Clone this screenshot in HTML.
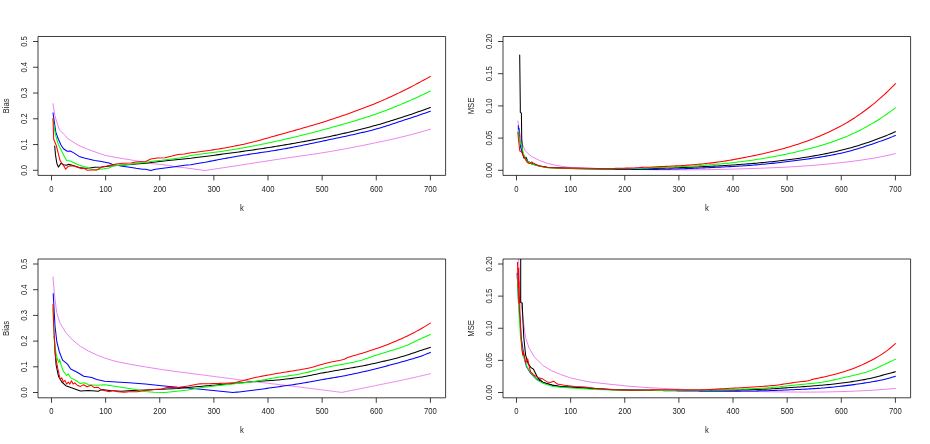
<!DOCTYPE html>
<html><head><meta charset="utf-8"><title>Bias and MSE plots</title>
<style>
html,body{margin:0;padding:0;background:#fff;}
body{width:930px;height:444px;overflow:hidden;font-family:"Liberation Sans",sans-serif;}
svg{display:block;}
</style></head><body>
<svg width="930" height="444" viewBox="0 0 930 444">
<rect x="0" y="0" width="930" height="444" fill="#ffffff"/>
<defs>
<clipPath id="cp00"><rect x="38.0" y="36.5" width="407.6" height="138.9"/></clipPath>
<clipPath id="cp01"><rect x="503.0" y="36.5" width="407.6" height="138.9"/></clipPath>
<clipPath id="cp10"><rect x="38.0" y="259.0" width="407.6" height="138.8"/></clipPath>
<clipPath id="cp11"><rect x="503.0" y="259.0" width="407.6" height="138.8"/></clipPath>
</defs>
<g clip-path="url(#cp00)" fill="none" stroke-linejoin="round" stroke-linecap="round">
<path d="M52.95,103.70 L54.00,110.00 L54.90,115.50 L57.20,123.40 L59.60,130.10 L65.60,135.80 L66.70,137.80 L77.00,144.50 L87.40,149.20 L99.80,153.60 L104.50,155.20 L110.20,156.40 L122.50,158.60 L130.90,159.90 L136.00,160.90 L142.50,161.90 L150.80,163.50 L161.80,164.50 L168.30,165.40 L174.70,166.70 L184.40,167.70 L196.00,169.30 L204.90,170.50 L206.90,170.20 L208.90,169.90 L210.90,169.60 L212.90,169.30 L214.90,169.00 L216.90,168.70 L218.90,168.40 L220.90,168.09 L222.90,167.79 L224.90,167.49 L226.90,167.19 L228.90,166.88 L230.90,166.58 L232.90,166.27 L234.90,165.97 L236.90,165.66 L238.90,165.36 L240.90,165.05 L241.90,164.90 L242.90,164.75 L244.90,164.44 L246.90,164.13 L248.90,163.82 L250.90,163.51 L252.90,163.20 L254.90,162.89 L256.90,162.58 L258.90,162.26 L260.90,161.95 L262.90,161.64 L264.90,161.33 L266.90,161.02 L268.90,160.71 L270.90,160.40 L272.90,160.09 L274.90,159.78 L276.90,159.47 L278.90,159.17 L280.00,159.00 L280.90,158.86 L282.90,158.56 L284.90,158.27 L286.90,157.97 L288.90,157.68 L290.90,157.40 L292.90,157.11 L294.90,156.82 L296.90,156.54 L298.90,156.25 L300.90,155.97 L302.90,155.68 L304.90,155.40 L306.90,155.11 L308.90,154.82 L310.90,154.53 L312.90,154.23 L314.90,153.94 L316.90,153.63 L318.90,153.33 L320.90,153.02 L322.90,152.70 L324.90,152.38 L326.90,152.05 L327.80,151.90 L328.90,151.72 L330.90,151.38 L332.90,151.03 L334.90,150.68 L336.90,150.33 L338.90,149.97 L340.90,149.61 L342.90,149.24 L344.90,148.87 L346.90,148.49 L348.90,148.11 L350.90,147.73 L352.90,147.35 L354.90,146.96 L356.90,146.57 L358.90,146.17 L360.90,145.77 L362.90,145.37 L364.90,144.97 L366.90,144.56 L368.90,144.16 L370.90,143.75 L372.90,143.34 L374.90,142.92 L375.50,142.80 L376.90,142.51 L378.90,142.09 L380.90,141.67 L382.90,141.25 L384.90,140.82 L386.90,140.39 L388.90,139.95 L390.90,139.51 L392.90,139.06 L394.90,138.61 L396.90,138.15 L398.90,137.68 L400.90,137.20 L402.90,136.72 L404.20,136.40 L404.90,136.23 L406.90,135.73 L408.90,135.21 L410.90,134.70 L412.90,134.17 L414.90,133.63 L416.90,133.08 L418.90,132.53 L420.90,131.97 L422.90,131.40 L424.90,130.82 L426.90,130.24 L428.90,129.65 L430.40,129.20" stroke="#ee82ee" stroke-width="1.0"/>
<path d="M53.00,112.90 L55.80,132.10 L58.40,139.30 L61.00,145.00 L63.50,148.70 L67.20,151.20 L70.30,151.00 L73.40,152.60 L79.10,156.40 L84.30,158.00 L89.50,159.30 L94.60,160.60 L100.00,161.30 L109.00,162.90 L112.60,164.50 L122.50,166.30 L131.50,167.40 L136.00,168.30 L142.50,169.30 L145.70,169.20 L150.70,170.50 L155.40,169.30 L165.00,168.00 L174.70,166.70 L184.40,165.30 L190.80,164.80 L196.00,163.80 L204.90,162.30 L206.90,161.91 L208.90,161.51 L210.90,161.12 L212.90,160.74 L214.90,160.36 L216.90,159.98 L218.90,159.60 L220.90,159.22 L222.90,158.85 L224.90,158.49 L226.90,158.12 L228.90,157.76 L230.90,157.40 L232.90,157.05 L234.90,156.70 L236.90,156.35 L238.90,156.01 L240.90,155.67 L241.90,155.50 L242.90,155.33 L244.90,155.01 L246.90,154.69 L248.90,154.37 L250.90,154.07 L252.90,153.77 L254.90,153.47 L256.90,153.17 L258.90,152.88 L260.90,152.59 L262.90,152.29 L264.90,152.00 L266.90,151.70 L268.90,151.40 L270.90,151.09 L272.90,150.78 L274.90,150.46 L276.90,150.13 L278.90,149.79 L280.00,149.60 L280.90,149.44 L282.90,149.09 L284.90,148.73 L286.90,148.36 L288.90,147.99 L290.90,147.61 L292.90,147.22 L294.90,146.84 L296.90,146.44 L298.90,146.04 L300.90,145.64 L302.90,145.24 L304.90,144.83 L306.90,144.41 L308.90,144.00 L310.90,143.58 L312.90,143.16 L314.90,142.74 L316.90,142.32 L318.90,141.89 L320.90,141.47 L322.90,141.04 L324.90,140.62 L326.90,140.19 L327.80,140.00 L328.90,139.77 L330.90,139.34 L332.90,138.92 L334.90,138.50 L336.90,138.08 L338.90,137.66 L340.90,137.24 L342.90,136.81 L344.90,136.39 L346.90,135.96 L348.90,135.53 L350.90,135.09 L352.90,134.65 L354.90,134.21 L356.90,133.76 L358.90,133.30 L360.90,132.84 L362.90,132.37 L364.90,131.89 L366.90,131.40 L368.90,130.91 L370.90,130.40 L372.90,129.89 L374.90,129.36 L375.50,129.20 L376.90,128.82 L378.90,128.26 L380.90,127.67 L382.90,127.07 L384.90,126.45 L386.90,125.81 L388.90,125.17 L390.90,124.52 L392.90,123.85 L394.90,123.19 L396.90,122.52 L398.90,121.85 L400.90,121.19 L402.90,120.53 L404.20,120.10 L404.90,119.87 L406.90,119.22 L408.90,118.56 L410.90,117.90 L412.90,117.23 L414.90,116.56 L416.90,115.89 L418.90,115.22 L420.90,114.55 L422.90,113.87 L424.90,113.19 L426.90,112.50 L428.90,111.82 L430.40,111.30" stroke="#0000ff" stroke-width="1.05"/>
<path d="M54.70,146.10 L55.50,154.90 L56.80,163.20 L58.40,167.10 L61.00,163.20 L63.50,164.70 L66.70,165.20 L68.70,164.20 L73.90,165.80 L79.10,167.50 L84.30,168.30 L89.50,168.10 L94.60,167.30 L101.90,166.90 L110.20,166.00 L120.50,165.20 L130.90,164.50 L136.00,164.10 L145.70,163.20 L155.40,161.90 L168.30,160.60 L181.20,159.30 L190.80,158.30 L196.00,157.40 L204.90,156.40 L206.90,156.15 L208.90,155.90 L210.90,155.65 L212.90,155.40 L214.90,155.15 L216.90,154.89 L218.90,154.63 L220.90,154.37 L222.90,154.10 L224.90,153.84 L226.90,153.57 L228.90,153.30 L230.90,153.03 L232.90,152.76 L234.90,152.48 L236.90,152.20 L238.90,151.92 L240.90,151.64 L241.90,151.50 L242.90,151.36 L244.90,151.07 L246.90,150.79 L248.90,150.50 L250.90,150.21 L252.90,149.92 L254.90,149.62 L256.90,149.32 L258.90,149.03 L260.90,148.72 L262.90,148.42 L264.90,148.11 L266.90,147.80 L268.90,147.49 L270.90,147.18 L272.90,146.86 L274.90,146.54 L276.90,146.21 L278.90,145.88 L280.00,145.70 L280.90,145.55 L282.90,145.22 L284.90,144.88 L286.90,144.54 L288.90,144.20 L290.90,143.86 L292.90,143.51 L294.90,143.16 L296.90,142.81 L298.90,142.46 L300.90,142.10 L302.90,141.74 L304.90,141.37 L306.90,141.00 L308.90,140.63 L310.90,140.26 L312.90,139.88 L314.90,139.49 L316.90,139.10 L318.90,138.71 L320.90,138.31 L322.90,137.91 L324.90,137.50 L326.90,137.09 L327.80,136.90 L328.90,136.67 L330.90,136.25 L332.90,135.82 L334.90,135.38 L336.90,134.94 L338.90,134.50 L340.90,134.05 L342.90,133.59 L344.90,133.13 L346.90,132.66 L348.90,132.19 L350.90,131.71 L352.90,131.23 L354.90,130.74 L356.90,130.25 L358.90,129.75 L360.90,129.24 L362.90,128.73 L364.90,128.22 L366.90,127.70 L368.90,127.17 L370.90,126.64 L372.90,126.10 L374.90,125.56 L375.50,125.40 L376.90,125.02 L378.90,124.45 L380.90,123.88 L382.90,123.30 L384.90,122.70 L386.90,122.10 L388.90,121.49 L390.90,120.86 L392.90,120.24 L394.90,119.60 L396.90,118.96 L398.90,118.32 L400.90,117.67 L402.90,117.02 L404.20,116.60 L404.90,116.37 L406.90,115.71 L408.90,115.05 L410.90,114.38 L412.90,113.70 L414.90,113.01 L416.90,112.32 L418.90,111.62 L420.90,110.92 L422.90,110.21 L424.90,109.50 L426.90,108.78 L428.90,108.05 L430.40,107.50" stroke="#000000" stroke-width="1.05"/>
<path d="M53.00,118.50 L55.30,134.10 L58.40,144.50 L61.50,150.70 L64.60,156.90 L66.70,160.60 L70.30,161.10 L74.90,163.20 L79.10,165.00 L83.20,166.50 L87.40,167.30 L90.50,168.90 L96.70,169.90 L100.00,169.20 L104.00,168.80 L109.10,168.00 L113.50,165.80 L122.60,165.10 L130.90,164.20 L136.00,163.20 L145.70,162.50 L152.10,161.20 L161.80,160.30 L172.10,159.00 L181.20,157.70 L190.80,155.40 L196.00,154.80 L204.90,153.60 L206.90,153.35 L208.90,153.10 L210.90,152.84 L212.90,152.57 L214.90,152.30 L216.90,152.02 L218.90,151.74 L220.90,151.45 L222.90,151.15 L224.90,150.85 L226.90,150.54 L228.90,150.23 L230.90,149.92 L232.90,149.60 L234.90,149.27 L236.90,148.94 L238.90,148.61 L240.90,148.27 L241.90,148.10 L242.90,147.93 L244.90,147.58 L246.90,147.22 L248.90,146.85 L250.90,146.48 L252.90,146.09 L254.90,145.71 L256.90,145.31 L258.90,144.91 L260.90,144.50 L262.90,144.09 L264.90,143.67 L266.90,143.25 L268.90,142.83 L270.90,142.40 L272.90,141.96 L274.90,141.53 L276.90,141.09 L278.90,140.64 L280.00,140.40 L280.90,140.20 L282.90,139.75 L284.90,139.30 L286.90,138.84 L288.90,138.37 L290.90,137.90 L292.90,137.43 L294.90,136.95 L296.90,136.47 L298.90,135.98 L300.90,135.49 L302.90,135.00 L304.90,134.50 L306.90,133.99 L308.90,133.49 L310.90,132.97 L312.90,132.46 L314.90,131.94 L316.90,131.41 L318.90,130.89 L320.90,130.36 L322.90,129.82 L324.90,129.29 L326.90,128.74 L327.80,128.50 L328.90,128.20 L330.90,127.65 L332.90,127.10 L334.90,126.55 L336.90,126.00 L338.90,125.44 L340.90,124.88 L342.90,124.31 L344.90,123.74 L346.90,123.16 L348.90,122.58 L350.90,121.99 L352.90,121.40 L354.90,120.80 L356.90,120.20 L358.90,119.58 L360.90,118.97 L362.90,118.34 L364.90,117.70 L366.90,117.06 L368.90,116.41 L370.90,115.75 L372.90,115.08 L374.90,114.41 L375.50,114.20 L376.90,113.72 L378.90,113.01 L380.90,112.29 L382.90,111.55 L384.90,110.80 L386.90,110.03 L388.90,109.26 L390.90,108.47 L392.90,107.67 L394.90,106.86 L396.90,106.04 L398.90,105.22 L400.90,104.39 L402.90,103.55 L404.20,103.00 L404.90,102.70 L406.90,101.85 L408.90,100.98 L410.90,100.11 L412.90,99.22 L414.90,98.32 L416.90,97.41 L418.90,96.49 L420.90,95.56 L422.90,94.61 L424.90,93.66 L426.90,92.70 L428.90,91.73 L430.40,91.00" stroke="#00ff00" stroke-width="1.05"/>
<path d="M53.00,118.50 L53.70,139.30 L56.30,145.50 L58.40,153.80 L59.90,160.10 L62.00,163.70 L64.10,166.30 L65.60,169.20 L67.70,166.80 L70.30,165.80 L73.90,166.10 L78.10,167.50 L81.20,168.50 L84.30,168.30 L86.90,170.20 L91.50,169.90 L96.70,169.90 L101.90,167.00 L107.10,166.00 L111.20,165.00 L116.40,164.00 L122.60,163.30 L130.90,163.10 L136.00,162.00 L140.00,161.80 L145.70,161.50 L150.80,159.00 L157.30,158.00 L165.00,157.70 L172.10,156.10 L177.90,154.50 L184.40,154.10 L190.80,152.80 L196.00,152.20 L204.90,151.00 L206.90,150.74 L208.90,150.47 L210.90,150.18 L212.90,149.89 L214.90,149.58 L216.90,149.27 L218.90,148.94 L220.90,148.61 L222.90,148.26 L224.90,147.91 L226.90,147.55 L228.90,147.18 L230.90,146.80 L232.90,146.42 L234.90,146.03 L236.90,145.63 L238.90,145.22 L240.90,144.81 L241.90,144.60 L242.90,144.39 L244.90,143.95 L246.90,143.49 L248.90,143.02 L250.90,142.53 L252.90,142.02 L254.90,141.50 L256.90,140.97 L258.90,140.43 L260.90,139.89 L262.90,139.33 L264.90,138.77 L266.90,138.20 L268.90,137.64 L270.90,137.07 L272.90,136.50 L274.90,135.93 L276.90,135.37 L278.90,134.81 L280.00,134.50 L280.90,134.25 L282.90,133.70 L284.90,133.14 L286.90,132.59 L288.90,132.04 L290.90,131.48 L292.90,130.92 L294.90,130.37 L296.90,129.80 L298.90,129.24 L300.90,128.67 L302.90,128.11 L304.90,127.53 L306.90,126.96 L308.90,126.37 L310.90,125.79 L312.90,125.20 L314.90,124.60 L316.90,124.00 L318.90,123.39 L320.90,122.78 L322.90,122.15 L324.90,121.53 L326.90,120.89 L327.80,120.60 L328.90,120.25 L330.90,119.60 L332.90,118.94 L334.90,118.28 L336.90,117.61 L338.90,116.94 L340.90,116.26 L342.90,115.58 L344.90,114.89 L346.90,114.19 L348.90,113.49 L350.90,112.77 L352.90,112.06 L354.90,111.33 L356.90,110.60 L358.90,109.86 L360.90,109.11 L362.90,108.35 L364.90,107.59 L366.90,106.82 L368.90,106.04 L370.90,105.25 L372.90,104.45 L374.90,103.64 L375.50,103.40 L376.90,102.83 L378.90,101.99 L380.90,101.14 L382.90,100.27 L384.90,99.39 L386.90,98.50 L388.90,97.59 L390.90,96.67 L392.90,95.74 L394.90,94.79 L396.90,93.84 L398.90,92.88 L400.90,91.91 L402.90,90.94 L404.20,90.30 L404.90,89.96 L406.90,88.96 L408.90,87.96 L410.90,86.94 L412.90,85.90 L414.90,84.86 L416.90,83.81 L418.90,82.74 L420.90,81.66 L422.90,80.57 L424.90,79.48 L426.90,78.37 L428.90,77.25 L430.40,76.40" stroke="#ff0000" stroke-width="1.05"/>
</g>
<g clip-path="url(#cp01)" fill="none" stroke-linejoin="round" stroke-linecap="round">
<path d="M517.80,121.00 L519.80,132.80 L522.20,143.90 L525.40,151.20 L531.70,156.50 L539.50,160.50 L547.40,163.40 L555.30,165.20 L563.20,166.50 L571.10,167.50 L586.90,168.30 L608.00,168.80 L610.00,168.88 L612.00,168.95 L614.00,169.03 L616.00,169.09 L618.00,169.13 L620.00,169.17 L622.00,169.20 L624.00,169.24 L626.00,169.27 L628.00,169.31 L630.00,169.36 L632.00,169.40 L634.00,169.44 L636.00,169.49 L638.00,169.53 L640.00,169.57 L642.00,169.59 L644.00,169.62 L646.00,169.64 L648.00,169.66 L650.00,169.68 L652.00,169.70 L654.00,169.72 L656.00,169.74 L658.00,169.76 L660.00,169.77 L662.00,169.79 L664.00,169.80 L666.00,169.81 L668.00,169.82 L670.00,169.83 L672.00,169.83 L674.00,169.84 L676.00,169.84 L678.00,169.84 L680.00,169.84 L682.00,169.84 L684.00,169.84 L686.00,169.83 L688.00,169.82 L690.00,169.81 L692.00,169.80 L694.00,169.79 L696.00,169.77 L698.00,169.76 L700.00,169.74 L702.00,169.71 L704.00,169.69 L706.00,169.66 L708.00,169.63 L710.00,169.60 L712.00,169.57 L714.00,169.54 L716.00,169.50 L718.00,169.46 L720.00,169.42 L722.00,169.38 L724.00,169.33 L726.00,169.28 L728.00,169.24 L730.00,169.18 L732.00,169.13 L734.00,169.08 L736.00,169.02 L738.00,168.96 L740.00,168.90 L742.00,168.84 L744.00,168.78 L746.00,168.72 L748.00,168.65 L750.00,168.58 L752.00,168.52 L754.00,168.45 L756.00,168.38 L758.00,168.31 L760.00,168.24 L762.00,168.16 L764.00,168.09 L766.00,168.01 L768.00,167.93 L770.00,167.85 L772.00,167.77 L774.00,167.68 L776.00,167.60 L778.00,167.51 L780.00,167.42 L782.00,167.32 L784.00,167.22 L786.00,167.12 L788.00,167.01 L790.00,166.90 L792.00,166.79 L794.00,166.67 L796.00,166.55 L798.00,166.42 L800.00,166.29 L802.00,166.15 L804.00,166.01 L806.00,165.87 L808.00,165.72 L810.00,165.57 L812.00,165.41 L814.00,165.25 L816.00,165.09 L818.00,164.92 L820.00,164.74 L822.00,164.56 L824.00,164.38 L826.00,164.19 L828.00,164.00 L830.00,163.80 L832.00,163.60 L834.00,163.40 L836.00,163.19 L838.00,162.97 L840.00,162.75 L842.00,162.53 L844.00,162.31 L846.00,162.07 L848.00,161.84 L850.00,161.59 L852.00,161.34 L854.00,161.09 L856.00,160.82 L858.00,160.55 L860.00,160.27 L862.00,159.99 L864.00,159.69 L866.00,159.39 L868.00,159.07 L870.00,158.75 L872.00,158.41 L874.00,158.07 L876.00,157.71 L878.00,157.34 L880.00,156.96 L882.00,156.56 L884.00,156.16 L886.00,155.74 L888.00,155.31 L890.00,154.87 L892.00,154.42 L894.00,153.95 L895.41,153.62" stroke="#ee82ee" stroke-width="1.0"/>
<path d="M518.30,125.70 L518.40,130.00 L519.00,128.50 L519.20,133.00 L520.60,147.00 L523.00,154.90 L525.40,158.80 L527.70,161.50 L531.70,164.00 L539.50,166.10 L547.40,167.40 L563.20,168.20 L579.00,168.80 L608.00,169.30 L610.00,169.32 L612.00,169.35 L614.00,169.37 L616.00,169.39 L618.00,169.41 L620.00,169.42 L622.00,169.43 L624.00,169.44 L626.00,169.45 L628.00,169.46 L630.00,169.46 L632.00,169.46 L634.00,169.46 L636.00,169.46 L638.00,169.46 L640.00,169.46 L642.00,169.45 L644.00,169.44 L646.00,169.43 L648.00,169.41 L650.00,169.40 L652.00,169.40 L654.00,169.40 L656.00,169.39 L658.00,169.36 L660.00,169.32 L662.00,169.29 L664.00,169.25 L666.00,169.22 L668.00,169.18 L670.00,169.14 L672.00,169.08 L674.00,169.03 L676.00,168.97 L678.00,168.91 L680.00,168.84 L682.00,168.78 L684.00,168.71 L686.00,168.64 L688.00,168.56 L690.00,168.49 L692.00,168.41 L694.00,168.33 L696.00,168.25 L698.00,168.17 L700.00,168.08 L702.00,167.99 L704.00,167.89 L706.00,167.80 L708.00,167.70 L710.00,167.61 L712.00,167.52 L714.00,167.42 L716.00,167.33 L718.00,167.23 L720.00,167.14 L722.00,167.04 L724.00,166.94 L726.00,166.84 L728.00,166.74 L730.00,166.64 L732.00,166.53 L734.00,166.42 L736.00,166.31 L738.00,166.19 L740.00,166.07 L742.00,165.94 L744.00,165.81 L746.00,165.67 L748.00,165.52 L750.00,165.37 L752.00,165.21 L754.00,165.05 L756.00,164.88 L758.00,164.71 L760.00,164.53 L762.00,164.35 L764.00,164.16 L766.00,163.97 L768.00,163.77 L770.00,163.57 L772.00,163.36 L774.00,163.14 L776.00,162.93 L778.00,162.70 L780.00,162.48 L782.00,162.25 L784.00,162.01 L786.00,161.77 L788.00,161.53 L790.00,161.28 L792.00,161.03 L794.00,160.77 L796.00,160.51 L798.00,160.25 L800.00,159.99 L802.00,159.73 L804.00,159.46 L806.00,159.18 L808.00,158.90 L810.00,158.62 L812.00,158.33 L814.00,158.04 L816.00,157.73 L818.00,157.43 L820.00,157.11 L822.00,156.79 L824.00,156.45 L826.00,156.11 L828.00,155.76 L830.00,155.40 L832.00,155.03 L834.00,154.64 L836.00,154.24 L838.00,153.83 L840.00,153.41 L842.00,152.96 L844.00,152.50 L846.00,152.00 L848.00,151.49 L850.00,150.95 L852.00,150.40 L854.00,149.82 L856.00,149.23 L858.00,148.63 L860.00,148.01 L862.00,147.38 L864.00,146.74 L866.00,146.10 L868.00,145.45 L870.00,144.80 L872.00,144.14 L874.00,143.47 L876.00,142.78 L878.00,142.09 L880.00,141.38 L882.00,140.66 L884.00,139.93 L886.00,139.18 L888.00,138.43 L890.00,137.66 L892.00,136.88 L894.00,136.09 L895.41,135.52" stroke="#0000ff" stroke-width="1.05"/>
<path d="M519.70,55.10 L520.30,106.00 L520.30,112.30 L521.40,113.10 L521.70,137.50 L522.50,151.70 L523.80,158.00 L526.10,157.30 L527.70,161.20 L531.70,163.60 L539.50,165.90 L547.40,167.20 L563.20,168.00 L579.00,168.60 L608.00,169.10 L610.00,169.09 L612.00,169.07 L614.00,169.05 L616.00,169.02 L618.00,168.99 L620.00,168.96 L622.00,168.94 L624.00,168.92 L626.00,168.90 L628.00,168.87 L630.00,168.84 L632.00,168.82 L634.00,168.79 L636.00,168.76 L638.00,168.73 L640.00,168.70 L642.00,168.67 L644.00,168.63 L646.00,168.60 L648.00,168.56 L650.00,168.52 L652.00,168.48 L654.00,168.44 L656.00,168.40 L658.00,168.32 L660.00,168.24 L662.00,168.18 L664.00,168.13 L666.00,168.07 L668.00,168.02 L670.00,167.96 L672.00,167.90 L674.00,167.84 L676.00,167.77 L678.00,167.70 L680.00,167.63 L682.00,167.56 L684.00,167.49 L686.00,167.41 L688.00,167.33 L690.00,167.25 L692.00,167.17 L694.00,167.09 L696.00,167.00 L698.00,166.91 L700.00,166.82 L702.00,166.73 L704.00,166.63 L706.00,166.53 L708.00,166.43 L710.00,166.33 L712.00,166.23 L714.00,166.12 L716.00,166.01 L718.00,165.90 L720.00,165.78 L722.00,165.66 L724.00,165.54 L726.00,165.42 L728.00,165.30 L730.00,165.17 L732.00,165.03 L734.00,164.90 L736.00,164.76 L738.00,164.62 L740.00,164.47 L742.00,164.32 L744.00,164.17 L746.00,164.02 L748.00,163.86 L750.00,163.69 L752.00,163.53 L754.00,163.36 L756.00,163.18 L758.00,163.00 L760.00,162.82 L762.00,162.64 L764.00,162.45 L766.00,162.26 L768.00,162.06 L770.00,161.85 L772.00,161.65 L774.00,161.44 L776.00,161.22 L778.00,161.00 L780.00,160.77 L782.00,160.53 L784.00,160.30 L786.00,160.05 L788.00,159.80 L790.00,159.54 L792.00,159.28 L794.00,159.01 L796.00,158.73 L798.00,158.44 L800.00,158.15 L802.00,157.85 L804.00,157.54 L806.00,157.23 L808.00,156.90 L810.00,156.57 L812.00,156.23 L814.00,155.89 L816.00,155.53 L818.00,155.16 L820.00,154.79 L822.00,154.41 L824.00,154.02 L826.00,153.62 L828.00,153.21 L830.00,152.79 L832.00,152.36 L834.00,151.92 L836.00,151.47 L838.00,151.01 L840.00,150.55 L842.00,150.06 L844.00,149.57 L846.00,149.05 L848.00,148.52 L850.00,147.97 L852.00,147.41 L854.00,146.83 L856.00,146.23 L858.00,145.63 L860.00,145.00 L862.00,144.37 L864.00,143.72 L866.00,143.06 L868.00,142.39 L870.00,141.71 L872.00,141.01 L874.00,140.30 L876.00,139.57 L878.00,138.83 L880.00,138.07 L882.00,137.29 L884.00,136.50 L886.00,135.69 L888.00,134.86 L890.00,134.02 L892.00,133.16 L894.00,132.28 L895.41,131.66" stroke="#000000" stroke-width="1.05"/>
<path d="M518.30,129.70 L519.50,140.00 L521.90,147.00 L523.50,154.00 L526.50,160.50 L531.70,164.00 L539.50,166.30 L547.40,167.70 L563.20,168.50 L579.00,168.60 L608.00,169.00 L610.00,168.99 L612.00,168.96 L614.00,168.91 L616.00,168.85 L618.00,168.81 L620.00,168.79 L622.00,168.76 L624.00,168.74 L626.00,168.72 L628.00,168.68 L630.00,168.64 L632.00,168.60 L634.00,168.55 L636.00,168.51 L638.00,168.46 L640.00,168.40 L642.00,168.34 L644.00,168.28 L646.00,168.22 L648.00,168.11 L650.00,167.99 L652.00,167.86 L654.00,167.74 L656.00,167.61 L658.00,167.55 L660.00,167.48 L662.00,167.41 L664.00,167.34 L666.00,167.25 L668.00,167.17 L670.00,167.09 L672.00,167.01 L674.00,166.93 L676.00,166.85 L678.00,166.76 L680.00,166.67 L682.00,166.57 L684.00,166.47 L686.00,166.37 L688.00,166.26 L690.00,166.15 L692.00,166.03 L694.00,165.91 L696.00,165.79 L698.00,165.66 L700.00,165.53 L702.00,165.40 L704.00,165.26 L706.00,165.12 L708.00,164.97 L710.00,164.82 L712.00,164.66 L714.00,164.49 L716.00,164.32 L718.00,164.14 L720.00,163.96 L722.00,163.77 L724.00,163.57 L726.00,163.37 L728.00,163.16 L730.00,162.94 L732.00,162.72 L734.00,162.49 L736.00,162.26 L738.00,162.02 L740.00,161.78 L742.00,161.53 L744.00,161.27 L746.00,161.01 L748.00,160.74 L750.00,160.47 L752.00,160.18 L754.00,159.90 L756.00,159.60 L758.00,159.30 L760.00,158.98 L762.00,158.66 L764.00,158.34 L766.00,158.00 L768.00,157.66 L770.00,157.31 L772.00,156.95 L774.00,156.59 L776.00,156.21 L778.00,155.83 L780.00,155.44 L782.00,155.04 L784.00,154.63 L786.00,154.22 L788.00,153.79 L790.00,153.36 L792.00,152.92 L794.00,152.47 L796.00,152.01 L798.00,151.55 L800.00,151.07 L802.00,150.59 L804.00,150.10 L806.00,149.60 L808.00,149.09 L810.00,148.56 L812.00,148.03 L814.00,147.48 L816.00,146.93 L818.00,146.36 L820.00,145.77 L822.00,145.18 L824.00,144.57 L826.00,143.94 L828.00,143.30 L830.00,142.65 L832.00,141.97 L834.00,141.28 L836.00,140.57 L838.00,139.85 L840.00,139.10 L842.00,138.33 L844.00,137.54 L846.00,136.71 L848.00,135.86 L850.00,134.98 L852.00,134.07 L854.00,133.14 L856.00,132.18 L858.00,131.19 L860.00,130.18 L862.00,129.15 L864.00,128.09 L866.00,127.01 L868.00,125.91 L870.00,124.79 L872.00,123.64 L874.00,122.46 L876.00,121.24 L878.00,120.00 L880.00,118.72 L882.00,117.42 L884.00,116.08 L886.00,114.71 L888.00,113.30 L890.00,111.87 L892.00,110.40 L894.00,108.90 L895.41,107.83" stroke="#00ff00" stroke-width="1.05"/>
<path d="M517.80,132.00 L518.30,137.50 L519.80,151.00 L521.40,151.70 L523.80,156.50 L526.90,162.00 L529.30,163.60 L531.70,162.00 L534.00,163.60 L539.50,165.90 L547.40,167.50 L563.20,168.30 L579.00,168.00 L608.00,168.80 L610.00,168.80 L612.00,168.69 L614.00,168.52 L616.00,168.34 L618.00,168.28 L620.00,168.22 L622.00,168.16 L624.00,168.15 L626.00,168.14 L628.00,168.14 L630.00,168.13 L632.00,168.02 L634.00,167.92 L636.00,167.81 L638.00,167.68 L640.00,167.53 L642.00,167.37 L644.00,167.28 L646.00,167.25 L648.00,167.22 L650.00,167.16 L652.00,167.04 L654.00,166.91 L656.00,166.79 L658.00,166.72 L660.00,166.64 L662.00,166.56 L664.00,166.47 L666.00,166.38 L668.00,166.28 L670.00,166.19 L672.00,166.09 L674.00,165.99 L676.00,165.89 L678.00,165.78 L680.00,165.66 L682.00,165.54 L684.00,165.40 L686.00,165.27 L688.00,165.13 L690.00,164.98 L692.00,164.82 L694.00,164.66 L696.00,164.49 L698.00,164.32 L700.00,164.13 L702.00,163.95 L704.00,163.75 L706.00,163.55 L708.00,163.34 L710.00,163.12 L712.00,162.89 L714.00,162.64 L716.00,162.38 L718.00,162.10 L720.00,161.81 L722.00,161.51 L724.00,161.20 L726.00,160.88 L728.00,160.55 L730.00,160.21 L732.00,159.86 L734.00,159.50 L736.00,159.14 L738.00,158.77 L740.00,158.39 L742.00,158.01 L744.00,157.62 L746.00,157.24 L748.00,156.85 L750.00,156.45 L752.00,156.04 L754.00,155.63 L756.00,155.22 L758.00,154.79 L760.00,154.36 L762.00,153.92 L764.00,153.47 L766.00,153.01 L768.00,152.55 L770.00,152.07 L772.00,151.59 L774.00,151.09 L776.00,150.58 L778.00,150.07 L780.00,149.54 L782.00,148.99 L784.00,148.44 L786.00,147.87 L788.00,147.29 L790.00,146.69 L792.00,146.08 L794.00,145.46 L796.00,144.82 L798.00,144.16 L800.00,143.49 L802.00,142.81 L804.00,142.11 L806.00,141.40 L808.00,140.67 L810.00,139.92 L812.00,139.16 L814.00,138.38 L816.00,137.59 L818.00,136.77 L820.00,135.94 L822.00,135.09 L824.00,134.22 L826.00,133.32 L828.00,132.41 L830.00,131.48 L832.00,130.52 L834.00,129.55 L836.00,128.55 L838.00,127.52 L840.00,126.48 L842.00,125.40 L844.00,124.29 L846.00,123.14 L848.00,121.96 L850.00,120.74 L852.00,119.49 L854.00,118.20 L856.00,116.88 L858.00,115.53 L860.00,114.14 L862.00,112.72 L864.00,111.27 L866.00,109.79 L868.00,108.28 L870.00,106.74 L872.00,105.17 L874.00,103.55 L876.00,101.90 L878.00,100.20 L880.00,98.46 L882.00,96.68 L884.00,94.86 L886.00,93.00 L888.00,91.10 L890.00,89.15 L892.00,87.16 L894.00,85.13 L895.41,83.68" stroke="#ff0000" stroke-width="1.05"/>
</g>
<g clip-path="url(#cp10)" fill="none" stroke-linejoin="round" stroke-linecap="round">
<path d="M53.00,277.00 L54.30,293.50 L56.70,312.50 L59.80,322.70 L61.80,326.00 L65.80,332.50 L72.30,339.80 L80.40,346.30 L88.60,351.10 L96.70,354.90 L104.80,358.10 L112.90,360.60 L121.00,362.50 L129.10,364.10 L145.30,366.90 L161.60,369.50 L177.80,371.80 L188.00,373.00 L198.30,374.40 L200.30,374.66 L202.30,374.92 L204.30,375.18 L206.30,375.44 L208.30,375.70 L210.30,375.96 L212.30,376.22 L214.30,376.48 L216.30,376.74 L218.30,377.00 L220.30,377.25 L222.30,377.51 L224.30,377.77 L226.30,378.03 L228.30,378.29 L230.30,378.55 L232.30,378.81 L233.00,378.90 L234.30,379.07 L236.30,379.33 L238.30,379.59 L240.30,379.85 L242.30,380.12 L244.30,380.38 L246.30,380.64 L248.30,380.90 L250.30,381.15 L252.30,381.40 L253.10,381.50 L254.30,381.65 L256.30,381.89 L258.30,382.13 L260.30,382.37 L262.30,382.60 L264.30,382.83 L266.30,383.07 L268.30,383.30 L270.30,383.53 L272.30,383.77 L274.30,384.00 L275.10,384.10 L276.30,384.24 L278.30,384.48 L280.30,384.72 L282.30,384.96 L284.30,385.20 L286.30,385.45 L288.30,385.69 L290.30,385.93 L292.30,386.17 L294.30,386.41 L296.30,386.66 L298.30,386.90 L300.30,387.15 L302.30,387.39 L304.30,387.64 L306.30,387.89 L308.00,388.10 L308.30,388.14 L310.30,388.39 L312.30,388.64 L314.30,388.89 L316.30,389.14 L318.30,389.39 L320.30,389.65 L322.30,389.90 L324.30,390.15 L326.30,390.41 L328.30,390.67 L330.30,390.92 L332.30,391.18 L334.30,391.44 L336.30,391.70 L338.30,391.96 L340.30,392.22 L341.70,392.40 L343.70,392.00 L345.70,391.60 L347.70,391.20 L349.70,390.80 L351.70,390.40 L353.70,390.00 L355.70,389.60 L357.70,389.20 L359.70,388.80 L361.70,388.40 L363.70,387.99 L365.70,387.59 L367.70,387.18 L369.70,386.78 L371.70,386.37 L373.70,385.97 L375.50,385.60 L375.70,385.56 L377.70,385.15 L379.70,384.75 L381.70,384.34 L383.70,383.94 L385.70,383.54 L387.70,383.13 L389.70,382.72 L391.70,382.32 L393.70,381.90 L395.70,381.49 L397.70,381.08 L399.70,380.66 L401.70,380.23 L403.70,379.81 L404.20,379.70 L405.70,379.38 L407.70,378.94 L409.70,378.49 L411.70,378.05 L413.70,377.60 L415.70,377.14 L417.70,376.68 L418.50,376.50 L419.70,376.22 L421.70,375.76 L423.70,375.29 L425.70,374.82 L427.70,374.35 L429.70,373.87 L430.40,373.70" stroke="#ee82ee" stroke-width="1.0"/>
<path d="M53.20,293.50 L54.00,308.00 L55.00,326.00 L56.90,342.20 L59.40,352.00 L62.60,360.10 L67.50,364.10 L70.70,369.00 L77.20,372.20 L83.70,376.30 L91.80,377.60 L96.70,379.50 L104.80,381.20 L116.10,382.00 L129.10,382.80 L145.30,384.10 L161.60,385.70 L177.80,387.30 L188.00,388.00 L198.30,389.00 L233.00,392.50 L235.00,392.31 L237.00,392.11 L239.00,391.90 L241.00,391.69 L243.00,391.48 L245.00,391.25 L247.00,391.03 L249.00,390.79 L251.00,390.56 L253.00,390.31 L253.10,390.30 L255.00,390.06 L257.00,389.80 L259.00,389.53 L261.00,389.25 L263.00,388.96 L265.00,388.67 L267.00,388.38 L269.00,388.09 L271.00,387.79 L273.00,387.50 L275.00,387.21 L275.10,387.20 L277.00,386.93 L279.00,386.65 L281.00,386.37 L283.00,386.09 L285.00,385.81 L287.00,385.53 L289.00,385.25 L291.00,384.97 L293.00,384.67 L295.00,384.38 L297.00,384.07 L299.00,383.76 L300.00,383.60 L301.00,383.44 L303.00,383.10 L305.00,382.75 L307.00,382.39 L309.00,382.02 L311.00,381.65 L313.00,381.28 L315.00,380.90 L317.00,380.53 L319.00,380.17 L321.00,379.81 L321.60,379.70 L323.00,379.46 L325.00,379.11 L327.00,378.78 L329.00,378.45 L331.00,378.12 L333.00,377.79 L335.00,377.45 L337.00,377.11 L339.00,376.77 L341.00,376.41 L343.00,376.04 L343.20,376.00 L345.00,375.65 L347.00,375.26 L349.00,374.86 L351.00,374.45 L353.00,374.03 L355.00,373.61 L357.00,373.17 L359.00,372.73 L361.00,372.29 L363.00,371.83 L364.90,371.40 L365.00,371.38 L367.00,370.91 L369.00,370.44 L371.00,369.95 L373.00,369.46 L375.00,368.96 L377.00,368.45 L379.00,367.94 L381.00,367.43 L383.00,366.91 L385.00,366.39 L386.50,366.00 L387.00,365.87 L389.00,365.35 L391.00,364.82 L393.00,364.28 L395.00,363.74 L397.00,363.20 L399.00,362.65 L401.00,362.10 L403.00,361.54 L404.20,361.20 L405.00,360.97 L407.00,360.42 L409.00,359.86 L411.00,359.29 L413.00,358.72 L415.00,358.12 L417.00,357.49 L418.50,357.00 L419.00,356.83 L421.00,356.13 L423.00,355.39 L425.00,354.62 L427.00,353.82 L429.00,352.99 L430.40,352.40" stroke="#0000ff" stroke-width="1.05"/>
<path d="M54.30,336.00 L55.00,350.00 L56.10,364.90 L58.50,376.30 L61.80,382.00 L65.80,385.70 L70.70,387.60 L75.60,389.30 L80.40,390.90 L88.60,390.60 L98.30,391.20 L101.50,389.60 L109.60,390.60 L121.00,391.20 L132.40,390.60 L145.30,390.10 L161.60,389.30 L177.80,388.50 L188.00,387.60 L198.30,386.60 L200.30,386.42 L202.30,386.24 L204.30,386.06 L206.30,385.89 L208.30,385.71 L210.30,385.53 L212.30,385.35 L214.30,385.17 L216.30,384.99 L218.30,384.81 L220.30,384.64 L222.30,384.46 L224.30,384.28 L226.30,384.10 L228.30,383.92 L230.30,383.74 L232.30,383.56 L233.00,383.50 L234.30,383.38 L236.30,383.20 L238.30,383.01 L240.30,382.83 L242.30,382.64 L244.30,382.45 L246.30,382.27 L248.30,382.10 L250.30,381.93 L252.30,381.76 L253.10,381.70 L254.30,381.61 L256.30,381.47 L258.30,381.33 L260.30,381.21 L262.30,381.08 L264.30,380.96 L266.30,380.84 L268.30,380.71 L270.30,380.57 L272.30,380.43 L274.30,380.27 L275.10,380.20 L276.30,380.10 L278.30,379.91 L280.30,379.72 L282.30,379.52 L284.30,379.31 L286.30,379.08 L288.30,378.85 L290.30,378.61 L292.30,378.36 L294.30,378.10 L296.30,377.83 L298.30,377.55 L300.00,377.30 L300.30,377.26 L302.30,376.94 L304.30,376.59 L306.30,376.21 L308.30,375.82 L310.30,375.41 L312.30,374.99 L314.30,374.57 L316.30,374.15 L318.30,373.74 L320.30,373.35 L321.60,373.10 L322.30,372.97 L324.30,372.61 L326.30,372.25 L328.30,371.90 L330.30,371.55 L332.30,371.20 L334.30,370.85 L336.30,370.51 L338.30,370.16 L340.30,369.81 L342.30,369.46 L343.20,369.30 L344.30,369.11 L346.30,368.75 L348.30,368.41 L350.30,368.06 L352.30,367.71 L354.30,367.36 L356.30,367.01 L358.30,366.65 L360.30,366.28 L362.30,365.91 L364.30,365.52 L364.90,365.40 L366.30,365.12 L368.30,364.71 L370.30,364.29 L372.30,363.86 L374.30,363.42 L376.30,362.98 L378.30,362.52 L380.30,362.06 L382.30,361.60 L384.30,361.13 L386.30,360.65 L386.50,360.60 L388.30,360.17 L390.30,359.68 L392.30,359.19 L394.30,358.69 L396.30,358.17 L398.30,357.65 L400.30,357.11 L402.30,356.55 L404.20,356.00 L404.30,355.97 L406.30,355.36 L408.30,354.70 L410.30,354.02 L412.30,353.33 L414.30,352.63 L416.30,351.94 L418.30,351.27 L418.50,351.20 L420.30,350.61 L422.30,349.97 L424.30,349.33 L426.30,348.69 L428.30,348.06 L430.30,347.43 L430.40,347.40" stroke="#000000" stroke-width="1.05"/>
<path d="M53.00,308.00 L54.40,342.20 L56.10,353.60 L57.70,360.10 L58.80,362.50 L59.70,359.30 L61.00,364.90 L63.40,371.40 L66.70,375.50 L68.30,373.90 L70.70,377.90 L75.60,380.30 L80.40,383.60 L84.50,382.80 L88.60,384.70 L96.70,385.20 L104.80,384.70 L112.90,386.00 L121.00,387.30 L129.10,388.50 L137.20,389.80 L145.30,391.40 L153.50,392.20 L164.80,392.50 L174.50,391.40 L188.00,390.10 L198.30,387.90 L200.30,387.67 L202.30,387.44 L204.30,387.21 L206.30,386.97 L208.30,386.74 L210.30,386.51 L212.30,386.28 L214.30,386.05 L216.30,385.82 L218.30,385.59 L220.30,385.36 L222.30,385.13 L224.30,384.90 L226.30,384.67 L228.30,384.44 L230.30,384.21 L232.30,383.98 L233.00,383.90 L234.30,383.75 L236.30,383.53 L238.30,383.32 L240.30,383.10 L242.30,382.89 L244.30,382.67 L246.30,382.45 L248.30,382.21 L250.30,381.97 L252.30,381.71 L253.10,381.60 L254.30,381.43 L256.30,381.13 L258.30,380.80 L260.30,380.46 L262.30,380.10 L264.30,379.73 L266.30,379.36 L268.30,378.99 L270.30,378.63 L272.30,378.27 L274.30,377.93 L275.10,377.80 L276.30,377.61 L278.30,377.30 L280.30,377.01 L282.30,376.72 L284.30,376.44 L286.30,376.16 L288.30,375.88 L290.30,375.59 L292.30,375.29 L294.30,374.98 L296.30,374.66 L298.30,374.31 L300.00,374.00 L300.30,373.94 L302.30,373.53 L304.30,373.09 L306.30,372.61 L308.30,372.12 L310.30,371.62 L310.80,371.50 L312.30,371.11 L314.30,370.57 L316.30,370.01 L318.30,369.46 L320.30,368.93 L321.60,368.60 L322.30,368.43 L324.30,367.96 L326.30,367.50 L328.30,367.06 L330.30,366.63 L332.30,366.22 L332.40,366.20 L334.30,365.83 L336.30,365.46 L338.30,365.10 L340.30,364.74 L342.30,364.37 L343.20,364.20 L344.30,363.99 L346.30,363.60 L348.30,363.21 L350.30,362.81 L352.30,362.40 L354.30,361.97 L356.30,361.51 L358.30,361.03 L358.40,361.00 L360.30,360.49 L362.30,359.90 L364.30,359.26 L366.30,358.60 L368.30,357.91 L370.30,357.22 L372.30,356.53 L374.30,355.85 L375.70,355.40 L376.30,355.21 L378.30,354.58 L380.30,353.95 L382.30,353.32 L384.30,352.69 L386.30,352.06 L386.50,352.00 L388.30,351.44 L390.30,350.84 L392.30,350.25 L394.30,349.65 L396.30,349.05 L398.30,348.43 L400.30,347.78 L402.30,347.09 L404.20,346.40 L404.30,346.36 L406.30,345.56 L408.30,344.68 L410.30,343.74 L412.30,342.77 L414.30,341.79 L416.30,340.83 L418.30,339.89 L418.50,339.80 L420.30,338.99 L422.30,338.09 L424.30,337.19 L426.30,336.31 L428.30,335.42 L430.30,334.54 L430.40,334.50" stroke="#00ff00" stroke-width="1.05"/>
<path d="M53.00,304.30 L53.70,326.00 L55.30,355.20 L57.70,368.20 L60.20,379.50 L61.80,377.90 L63.40,382.00 L65.00,380.40 L66.70,384.10 L68.30,382.00 L69.90,384.10 L71.50,380.80 L73.10,384.10 L74.80,382.80 L77.20,385.20 L80.40,386.40 L83.70,384.70 L86.90,386.80 L91.00,385.20 L94.20,387.60 L98.30,387.30 L101.50,390.10 L106.40,390.90 L109.60,391.70 L112.90,390.60 L117.80,391.70 L124.30,392.20 L129.10,391.70 L137.20,391.70 L145.30,390.60 L153.50,389.60 L161.60,388.90 L168.10,387.30 L177.80,387.60 L188.00,386.00 L198.30,383.90 L200.30,383.87 L202.30,383.84 L204.30,383.80 L206.30,383.76 L208.30,383.71 L210.30,383.66 L212.30,383.60 L214.30,383.55 L216.00,383.50 L216.30,383.49 L218.30,383.43 L220.30,383.38 L222.30,383.32 L224.30,383.25 L226.30,383.18 L228.30,383.09 L230.30,382.98 L232.30,382.85 L233.00,382.80 L234.30,382.66 L236.30,382.28 L238.30,381.77 L240.30,381.22 L242.30,380.67 L243.00,380.50 L244.30,380.18 L246.30,379.68 L248.30,379.16 L250.30,378.66 L252.30,378.18 L253.10,378.00 L254.30,377.74 L256.30,377.32 L258.30,376.91 L260.30,376.51 L262.30,376.13 L264.30,375.75 L266.30,375.38 L268.30,375.01 L270.30,374.65 L272.30,374.30 L274.30,373.94 L275.10,373.80 L276.30,373.59 L278.30,373.25 L280.30,372.92 L282.30,372.59 L284.30,372.27 L286.30,371.96 L288.30,371.64 L290.30,371.33 L292.30,371.00 L294.30,370.68 L296.30,370.35 L298.30,370.00 L300.00,369.70 L300.30,369.65 L302.30,369.29 L304.30,368.92 L306.30,368.55 L308.30,368.15 L310.30,367.71 L310.80,367.60 L312.30,367.23 L314.30,366.67 L316.30,366.07 L318.30,365.45 L320.30,364.86 L321.60,364.50 L322.30,364.31 L324.30,363.79 L326.30,363.27 L328.30,362.77 L330.30,362.28 L332.30,361.82 L332.40,361.80 L334.30,361.41 L336.30,361.06 L338.30,360.71 L340.30,360.32 L342.30,359.85 L343.20,359.60 L344.30,359.18 L346.30,358.18 L347.60,357.60 L348.30,357.34 L350.30,356.66 L352.30,356.05 L354.30,355.48 L356.30,354.92 L358.30,354.36 L360.30,353.76 L360.50,353.70 L362.30,353.14 L364.30,352.51 L366.30,351.88 L368.30,351.24 L370.30,350.60 L372.30,349.94 L374.30,349.27 L375.70,348.80 L376.30,348.59 L378.30,347.90 L380.30,347.20 L382.30,346.48 L384.30,345.74 L386.30,344.98 L386.50,344.90 L388.30,344.20 L390.30,343.40 L392.30,342.59 L394.30,341.76 L396.30,340.91 L398.30,340.05 L400.30,339.17 L402.30,338.27 L404.20,337.40 L404.30,337.35 L406.30,336.42 L408.30,335.46 L410.30,334.48 L412.30,333.48 L414.30,332.45 L416.30,331.39 L418.30,330.31 L418.50,330.20 L420.30,329.19 L422.30,328.03 L424.30,326.84 L426.30,325.61 L428.30,324.35 L430.30,323.07 L430.40,323.00" stroke="#ff0000" stroke-width="1.05"/>
</g>
<g clip-path="url(#cp11)" fill="none" stroke-linejoin="round" stroke-linecap="round">
<path d="M518.20,250.00 L518.60,259.00 L519.50,281.00 L520.60,300.00 L522.00,310.00 L523.20,319.00 L523.90,325.40 L525.60,337.60 L529.10,348.10 L534.30,356.90 L543.10,365.70 L551.90,370.90 L560.70,374.50 L569.50,377.60 L578.30,379.70 L587.00,381.50 L595.80,382.70 L613.40,384.60 L631.00,386.40 L648.00,387.60 L650.00,387.71 L652.00,387.81 L654.00,387.92 L656.00,388.04 L658.00,388.16 L660.00,388.27 L662.00,388.38 L664.00,388.49 L666.00,388.59 L668.00,388.69 L670.00,388.79 L672.00,388.89 L674.00,388.98 L676.00,389.08 L678.00,389.17 L680.00,389.26 L682.00,389.35 L684.00,389.44 L686.00,389.52 L688.00,389.61 L690.00,389.69 L692.00,389.77 L694.00,389.85 L696.00,389.93 L698.00,390.00 L700.00,390.08 L702.00,390.15 L704.00,390.22 L706.00,390.29 L708.00,390.36 L710.00,390.43 L712.00,390.49 L714.00,390.56 L716.00,390.62 L718.00,390.67 L720.00,390.73 L722.00,390.78 L724.00,390.83 L726.00,390.88 L728.00,390.93 L730.00,390.98 L732.00,391.02 L734.00,391.06 L736.00,391.11 L738.00,391.15 L740.00,391.20 L742.00,391.24 L744.00,391.29 L746.00,391.33 L748.00,391.38 L750.00,391.42 L752.00,391.46 L754.00,391.50 L756.00,391.54 L758.00,391.58 L760.00,391.61 L762.00,391.65 L764.00,391.68 L766.00,391.71 L768.00,391.75 L770.00,391.78 L772.00,391.80 L774.00,391.83 L776.00,391.86 L778.00,391.88 L780.00,391.90 L782.00,391.93 L784.00,391.95 L786.00,391.97 L788.00,391.98 L790.00,392.00 L792.00,392.02 L794.00,392.03 L796.00,392.04 L798.00,392.05 L800.00,392.06 L802.00,392.07 L804.00,392.07 L806.00,392.08 L808.00,392.08 L810.00,392.08 L812.00,392.07 L814.00,392.06 L816.00,392.05 L818.00,392.04 L820.00,392.02 L822.00,391.99 L824.00,391.97 L826.00,391.94 L828.00,391.90 L830.00,391.87 L832.00,391.83 L834.00,391.78 L836.00,391.73 L838.00,391.68 L840.00,391.63 L842.00,391.57 L844.00,391.51 L846.00,391.44 L848.00,391.37 L850.00,391.30 L852.00,391.22 L854.00,391.14 L856.00,391.06 L858.00,390.97 L860.00,390.88 L862.00,390.78 L864.00,390.68 L866.00,390.58 L868.00,390.47 L870.00,390.35 L872.00,390.23 L874.00,390.10 L876.00,389.97 L878.00,389.83 L880.00,389.69 L882.00,389.54 L884.00,389.38 L886.00,389.22 L888.00,389.06 L890.00,388.88 L892.00,388.71 L894.00,388.52 L895.41,388.39" stroke="#ee82ee" stroke-width="1.0"/>
<path d="M517.10,273.00 L517.50,281.00 L518.50,300.00 L520.00,320.00 L521.20,337.60 L523.80,355.10 L526.40,366.50 L530.00,372.30 L536.10,378.80 L543.10,382.40 L551.90,385.00 L560.70,386.70 L578.30,387.60 L595.80,388.50 L613.40,389.50 L648.00,390.30 L650.00,390.34 L652.00,390.38 L654.00,390.43 L656.00,390.47 L658.00,390.51 L660.00,390.55 L662.00,390.59 L664.00,390.63 L666.00,390.67 L668.00,390.71 L670.00,390.74 L672.00,390.77 L674.00,390.80 L676.00,390.84 L678.00,390.86 L680.00,390.89 L682.00,390.92 L684.00,390.94 L686.00,390.97 L688.00,390.99 L690.00,391.01 L692.00,391.03 L694.00,391.05 L696.00,391.07 L698.00,391.09 L700.00,391.11 L702.00,391.12 L704.00,391.14 L706.00,391.15 L708.00,391.16 L710.00,391.17 L712.00,391.18 L714.00,391.19 L716.00,391.19 L718.00,391.20 L720.00,391.20 L722.00,391.20 L724.00,391.20 L726.00,391.19 L728.00,391.19 L730.00,391.18 L732.00,391.17 L734.00,391.16 L736.00,391.14 L738.00,391.13 L740.00,391.11 L742.00,391.09 L744.00,391.07 L746.00,391.04 L748.00,391.02 L750.00,390.99 L752.00,390.97 L754.00,390.94 L756.00,390.90 L758.00,390.87 L760.00,390.83 L762.00,390.79 L764.00,390.75 L766.00,390.70 L768.00,390.65 L770.00,390.59 L772.00,390.53 L774.00,390.46 L776.00,390.39 L778.00,390.32 L780.00,390.25 L782.00,390.17 L784.00,390.09 L786.00,390.01 L788.00,389.93 L790.00,389.85 L792.00,389.77 L794.00,389.68 L796.00,389.60 L798.00,389.51 L800.00,389.42 L802.00,389.33 L804.00,389.23 L806.00,389.12 L808.00,389.01 L810.00,388.89 L812.00,388.77 L814.00,388.64 L816.00,388.50 L818.00,388.36 L820.00,388.21 L822.00,388.06 L824.00,387.90 L826.00,387.73 L828.00,387.55 L830.00,387.37 L832.00,387.19 L834.00,386.99 L836.00,386.79 L838.00,386.57 L840.00,386.35 L842.00,386.12 L844.00,385.89 L846.00,385.64 L848.00,385.39 L850.00,385.14 L852.00,384.88 L854.00,384.61 L856.00,384.33 L858.00,384.04 L860.00,383.75 L862.00,383.45 L864.00,383.14 L866.00,382.82 L868.00,382.49 L870.00,382.15 L872.00,381.81 L874.00,381.47 L876.00,381.11 L878.00,380.74 L880.00,380.35 L882.00,379.93 L884.00,379.48 L886.00,378.99 L888.00,378.47 L890.00,377.92 L892.00,377.33 L894.00,376.70 L895.41,376.24" stroke="#0000ff" stroke-width="1.05"/>
<path d="M520.70,250.00 L520.70,302.50 L522.20,303.00 L522.90,320.00 L523.80,337.60 L525.60,355.10 L528.20,363.90 L530.80,367.40 L533.50,369.20 L535.20,372.70 L537.90,378.00 L543.10,382.40 L551.90,385.00 L560.70,386.40 L578.30,387.60 L595.80,388.90 L613.40,389.70 L631.00,390.30 L648.00,390.30 L650.00,390.31 L652.00,390.33 L654.00,390.34 L656.00,390.35 L658.00,390.35 L660.00,390.36 L662.00,390.36 L664.00,390.36 L666.00,390.37 L668.00,390.37 L670.00,390.37 L672.00,390.37 L674.00,390.37 L676.00,390.36 L678.00,390.36 L680.00,390.35 L682.00,390.35 L684.00,390.34 L686.00,390.33 L688.00,390.32 L690.00,390.31 L692.00,390.30 L694.00,390.28 L696.00,390.27 L698.00,390.25 L700.00,390.24 L702.00,390.22 L704.00,390.20 L706.00,390.18 L708.00,390.16 L710.00,390.14 L712.00,390.12 L714.00,390.09 L716.00,390.07 L718.00,390.05 L720.00,390.03 L722.00,390.02 L724.00,390.00 L726.00,389.98 L728.00,389.97 L730.00,389.95 L732.00,389.94 L734.00,389.92 L736.00,389.90 L738.00,389.87 L740.00,389.84 L742.00,389.81 L744.00,389.77 L746.00,389.73 L748.00,389.69 L750.00,389.65 L752.00,389.60 L754.00,389.54 L756.00,389.48 L758.00,389.42 L760.00,389.36 L762.00,389.28 L764.00,389.21 L766.00,389.13 L768.00,389.04 L770.00,388.93 L772.00,388.82 L774.00,388.69 L776.00,388.56 L778.00,388.43 L780.00,388.29 L782.00,388.14 L784.00,388.00 L786.00,387.86 L788.00,387.73 L790.00,387.59 L792.00,387.46 L794.00,387.32 L796.00,387.19 L798.00,387.05 L800.00,386.91 L802.00,386.76 L804.00,386.62 L806.00,386.47 L808.00,386.31 L810.00,386.16 L812.00,386.00 L814.00,385.84 L816.00,385.68 L818.00,385.51 L820.00,385.35 L822.00,385.17 L824.00,384.99 L826.00,384.81 L828.00,384.61 L830.00,384.41 L832.00,384.20 L834.00,383.98 L836.00,383.75 L838.00,383.51 L840.00,383.26 L842.00,383.01 L844.00,382.74 L846.00,382.47 L848.00,382.19 L850.00,381.90 L852.00,381.61 L854.00,381.31 L856.00,380.99 L858.00,380.67 L860.00,380.34 L862.00,380.00 L864.00,379.64 L866.00,379.26 L868.00,378.86 L870.00,378.44 L872.00,377.99 L874.00,377.50 L876.00,376.98 L878.00,376.45 L880.00,375.91 L882.00,375.37 L884.00,374.83 L886.00,374.30 L888.00,373.76 L890.00,373.22 L892.00,372.68 L894.00,372.13 L895.41,371.75" stroke="#000000" stroke-width="1.05"/>
<path d="M517.30,275.00 L518.30,300.00 L519.40,320.00 L520.60,337.60 L522.90,355.10 L527.30,367.40 L532.60,375.30 L537.90,380.60 L543.10,383.20 L551.90,386.20 L560.70,387.30 L578.30,388.50 L595.80,389.40 L613.40,389.90 L648.00,390.30 L650.00,390.33 L652.00,390.35 L654.00,390.37 L656.00,390.37 L658.00,390.37 L660.00,390.37 L662.00,390.37 L664.00,390.36 L666.00,390.37 L668.00,390.37 L670.00,390.37 L672.00,390.37 L674.00,390.37 L676.00,390.37 L678.00,390.36 L680.00,390.35 L682.00,390.35 L684.00,390.34 L686.00,390.33 L688.00,390.31 L690.00,390.30 L692.00,390.28 L694.00,390.27 L696.00,390.25 L698.00,390.23 L700.00,390.21 L702.00,390.19 L704.00,390.17 L706.00,390.15 L708.00,390.12 L710.00,390.10 L712.00,390.07 L714.00,390.04 L716.00,390.00 L718.00,389.96 L720.00,389.91 L722.00,389.86 L724.00,389.80 L726.00,389.73 L728.00,389.66 L730.00,389.58 L732.00,389.50 L734.00,389.42 L736.00,389.34 L738.00,389.25 L740.00,389.17 L742.00,389.09 L744.00,389.01 L746.00,388.93 L748.00,388.86 L750.00,388.78 L752.00,388.70 L754.00,388.62 L756.00,388.54 L758.00,388.45 L760.00,388.35 L762.00,388.24 L764.00,388.13 L766.00,388.00 L768.00,387.86 L770.00,387.69 L772.00,387.52 L774.00,387.33 L776.00,387.14 L778.00,386.93 L780.00,386.71 L782.00,386.48 L784.00,386.24 L786.00,386.01 L788.00,385.79 L790.00,385.58 L792.00,385.37 L794.00,385.16 L796.00,384.96 L798.00,384.76 L800.00,384.57 L802.00,384.39 L804.00,384.20 L806.00,384.02 L808.00,383.82 L810.00,383.61 L812.00,383.40 L814.00,383.18 L816.00,382.96 L818.00,382.72 L820.00,382.47 L822.00,382.20 L824.00,381.90 L826.00,381.56 L828.00,381.18 L830.00,380.77 L832.00,380.34 L834.00,379.88 L836.00,379.42 L838.00,378.95 L840.00,378.49 L842.00,378.03 L844.00,377.57 L846.00,377.11 L848.00,376.64 L850.00,376.16 L852.00,375.68 L854.00,375.20 L856.00,374.72 L858.00,374.24 L860.00,373.75 L862.00,373.25 L864.00,372.71 L866.00,372.15 L868.00,371.54 L870.00,370.86 L872.00,370.12 L874.00,369.29 L876.00,368.40 L878.00,367.47 L880.00,366.53 L882.00,365.58 L884.00,364.64 L886.00,363.71 L888.00,362.78 L890.00,361.83 L892.00,360.87 L894.00,359.90 L895.41,359.22" stroke="#00ff00" stroke-width="1.05"/>
<path d="M517.50,262.30 L517.80,274.00 L518.20,288.00 L518.60,268.00 L518.80,303.00 L519.00,281.00 L519.40,296.00 L519.90,311.00 L520.30,320.00 L521.20,338.70 L522.00,350.00 L522.80,355.20 L523.40,351.60 L524.80,358.00 L525.50,363.20 L527.70,358.90 L529.20,366.10 L530.60,371.80 L533.50,374.70 L537.80,377.60 L542.90,379.10 L547.20,381.90 L550.20,382.40 L553.70,381.20 L557.30,384.10 L564.20,385.30 L574.70,386.40 L585.30,387.10 L595.80,388.50 L613.40,389.70 L631.00,390.30 L648.00,389.90 L650.00,389.90 L652.00,389.89 L654.00,389.88 L656.00,389.86 L658.00,389.83 L660.00,389.80 L662.00,389.76 L664.00,389.74 L666.00,389.77 L668.00,389.79 L670.00,389.81 L672.00,389.83 L674.00,389.85 L676.00,389.86 L678.00,389.88 L680.00,389.89 L682.00,389.91 L684.00,389.92 L686.00,389.93 L688.00,389.95 L690.00,389.96 L692.00,389.96 L694.00,389.97 L696.00,389.96 L698.00,389.96 L700.00,389.93 L702.00,389.86 L704.00,389.77 L706.00,389.66 L708.00,389.56 L710.00,389.46 L712.00,389.35 L714.00,389.23 L716.00,389.11 L718.00,389.00 L720.00,388.89 L722.00,388.78 L724.00,388.67 L726.00,388.56 L728.00,388.45 L730.00,388.34 L732.00,388.24 L734.00,388.12 L736.00,388.01 L738.00,387.90 L740.00,387.78 L742.00,387.66 L744.00,387.54 L746.00,387.42 L748.00,387.31 L750.00,387.19 L752.00,387.07 L754.00,386.95 L756.00,386.83 L758.00,386.70 L760.00,386.57 L762.00,386.43 L764.00,386.28 L766.00,386.13 L768.00,385.97 L770.00,385.81 L772.00,385.63 L774.00,385.44 L776.00,385.23 L778.00,384.98 L780.00,384.69 L782.00,384.38 L784.00,384.06 L786.00,383.75 L788.00,383.46 L790.00,383.17 L792.00,382.88 L794.00,382.59 L796.00,382.32 L798.00,382.05 L800.00,381.82 L802.00,381.60 L804.00,381.38 L806.00,381.12 L808.00,380.80 L810.00,380.26 L812.00,379.62 L814.00,379.09 L816.00,378.63 L818.00,378.20 L820.00,377.79 L822.00,377.38 L824.00,376.95 L826.00,376.49 L828.00,376.01 L830.00,375.51 L832.00,375.01 L834.00,374.49 L836.00,373.95 L838.00,373.40 L840.00,372.83 L842.00,372.24 L844.00,371.63 L846.00,370.99 L848.00,370.33 L850.00,369.64 L852.00,368.92 L854.00,368.17 L856.00,367.40 L858.00,366.59 L860.00,365.75 L862.00,364.88 L864.00,363.98 L866.00,363.05 L868.00,362.08 L870.00,361.07 L872.00,360.03 L874.00,358.94 L876.00,357.80 L878.00,356.62 L880.00,355.39 L882.00,354.10 L884.00,352.75 L886.00,351.33 L888.00,349.83 L890.00,348.26 L892.00,346.62 L894.00,344.91 L895.41,343.67" stroke="#ff0000" stroke-width="1.05"/>
</g>
<g stroke="#000" stroke-width="0.75" fill="none" stroke-linecap="butt" stroke-linejoin="round">
<rect x="38.0" y="36.5" width="407.6" height="138.90"/>
<line x1="51.50" y1="175.4" x2="51.50" y2="180.40"/>
<line x1="105.63" y1="175.4" x2="105.63" y2="180.40"/>
<line x1="159.76" y1="175.4" x2="159.76" y2="180.40"/>
<line x1="213.89" y1="175.4" x2="213.89" y2="180.40"/>
<line x1="268.02" y1="175.4" x2="268.02" y2="180.40"/>
<line x1="322.15" y1="175.4" x2="322.15" y2="180.40"/>
<line x1="376.28" y1="175.4" x2="376.28" y2="180.40"/>
<line x1="430.41" y1="175.4" x2="430.41" y2="180.40"/>
<line x1="38.0" y1="170.30" x2="33.0" y2="170.30"/>
<line x1="38.0" y1="144.54" x2="33.0" y2="144.54"/>
<line x1="38.0" y1="118.78" x2="33.0" y2="118.78"/>
<line x1="38.0" y1="93.02" x2="33.0" y2="93.02"/>
<line x1="38.0" y1="67.26" x2="33.0" y2="67.26"/>
<line x1="38.0" y1="41.50" x2="33.0" y2="41.50"/>
<rect x="503.0" y="36.5" width="407.6" height="138.90"/>
<line x1="516.50" y1="175.4" x2="516.50" y2="180.40"/>
<line x1="570.63" y1="175.4" x2="570.63" y2="180.40"/>
<line x1="624.76" y1="175.4" x2="624.76" y2="180.40"/>
<line x1="678.89" y1="175.4" x2="678.89" y2="180.40"/>
<line x1="733.02" y1="175.4" x2="733.02" y2="180.40"/>
<line x1="787.15" y1="175.4" x2="787.15" y2="180.40"/>
<line x1="841.28" y1="175.4" x2="841.28" y2="180.40"/>
<line x1="895.41" y1="175.4" x2="895.41" y2="180.40"/>
<line x1="503.0" y1="170.30" x2="498.0" y2="170.30"/>
<line x1="503.0" y1="138.10" x2="498.0" y2="138.10"/>
<line x1="503.0" y1="105.90" x2="498.0" y2="105.90"/>
<line x1="503.0" y1="73.70" x2="498.0" y2="73.70"/>
<line x1="503.0" y1="41.50" x2="498.0" y2="41.50"/>
<rect x="38.0" y="259.0" width="407.6" height="138.80"/>
<line x1="51.50" y1="397.8" x2="51.50" y2="402.80"/>
<line x1="105.63" y1="397.8" x2="105.63" y2="402.80"/>
<line x1="159.76" y1="397.8" x2="159.76" y2="402.80"/>
<line x1="213.89" y1="397.8" x2="213.89" y2="402.80"/>
<line x1="268.02" y1="397.8" x2="268.02" y2="402.80"/>
<line x1="322.15" y1="397.8" x2="322.15" y2="402.80"/>
<line x1="376.28" y1="397.8" x2="376.28" y2="402.80"/>
<line x1="430.41" y1="397.8" x2="430.41" y2="402.80"/>
<line x1="38.0" y1="392.50" x2="33.0" y2="392.50"/>
<line x1="38.0" y1="366.80" x2="33.0" y2="366.80"/>
<line x1="38.0" y1="341.10" x2="33.0" y2="341.10"/>
<line x1="38.0" y1="315.40" x2="33.0" y2="315.40"/>
<line x1="38.0" y1="289.70" x2="33.0" y2="289.70"/>
<line x1="38.0" y1="264.00" x2="33.0" y2="264.00"/>
<rect x="503.0" y="259.0" width="407.6" height="138.80"/>
<line x1="516.50" y1="397.8" x2="516.50" y2="402.80"/>
<line x1="570.63" y1="397.8" x2="570.63" y2="402.80"/>
<line x1="624.76" y1="397.8" x2="624.76" y2="402.80"/>
<line x1="678.89" y1="397.8" x2="678.89" y2="402.80"/>
<line x1="733.02" y1="397.8" x2="733.02" y2="402.80"/>
<line x1="787.15" y1="397.8" x2="787.15" y2="402.80"/>
<line x1="841.28" y1="397.8" x2="841.28" y2="402.80"/>
<line x1="895.41" y1="397.8" x2="895.41" y2="402.80"/>
<line x1="503.0" y1="392.50" x2="498.0" y2="392.50"/>
<line x1="503.0" y1="360.38" x2="498.0" y2="360.38"/>
<line x1="503.0" y1="328.25" x2="498.0" y2="328.25"/>
<line x1="503.0" y1="296.12" x2="498.0" y2="296.12"/>
<line x1="503.0" y1="264.00" x2="498.0" y2="264.00"/>
</g>
<g font-family="'Liberation Sans', sans-serif" font-size="7.7px" fill="#000" text-anchor="middle" opacity="0.9">
<text transform="translate(51.50,192.00) scale(1,1.12)">0</text>
<text transform="translate(105.63,192.00) scale(1,1.12)">100</text>
<text transform="translate(159.76,192.00) scale(1,1.12)">200</text>
<text transform="translate(213.89,192.00) scale(1,1.12)">300</text>
<text transform="translate(268.02,192.00) scale(1,1.12)">400</text>
<text transform="translate(322.15,192.00) scale(1,1.12)">500</text>
<text transform="translate(376.28,192.00) scale(1,1.12)">600</text>
<text transform="translate(430.41,192.00) scale(1,1.12)">700</text>
<text transform="translate(241.80,210.50) scale(1,1.12)">k</text>
<text transform="translate(26.80,170.30) rotate(-90) scale(1,1.12)">0.0</text>
<text transform="translate(26.80,144.54) rotate(-90) scale(1,1.12)">0.1</text>
<text transform="translate(26.80,118.78) rotate(-90) scale(1,1.12)">0.2</text>
<text transform="translate(26.80,93.02) rotate(-90) scale(1,1.12)">0.3</text>
<text transform="translate(26.80,67.26) rotate(-90) scale(1,1.12)">0.4</text>
<text transform="translate(26.80,41.50) rotate(-90) scale(1,1.12)">0.5</text>
<text transform="translate(9.10,105.95) rotate(-90) scale(1,1.12)">Bias</text>
<text transform="translate(516.50,192.00) scale(1,1.12)">0</text>
<text transform="translate(570.63,192.00) scale(1,1.12)">100</text>
<text transform="translate(624.76,192.00) scale(1,1.12)">200</text>
<text transform="translate(678.89,192.00) scale(1,1.12)">300</text>
<text transform="translate(733.02,192.00) scale(1,1.12)">400</text>
<text transform="translate(787.15,192.00) scale(1,1.12)">500</text>
<text transform="translate(841.28,192.00) scale(1,1.12)">600</text>
<text transform="translate(895.41,192.00) scale(1,1.12)">700</text>
<text transform="translate(706.80,210.50) scale(1,1.12)">k</text>
<text transform="translate(491.80,170.30) rotate(-90) scale(1,1.12)">0.00</text>
<text transform="translate(491.80,138.10) rotate(-90) scale(1,1.12)">0.05</text>
<text transform="translate(491.80,105.90) rotate(-90) scale(1,1.12)">0.10</text>
<text transform="translate(491.80,73.70) rotate(-90) scale(1,1.12)">0.15</text>
<text transform="translate(491.80,41.50) rotate(-90) scale(1,1.12)">0.20</text>
<text transform="translate(474.10,105.95) rotate(-90) scale(1,1.12)">MSE</text>
<text transform="translate(51.50,414.40) scale(1,1.12)">0</text>
<text transform="translate(105.63,414.40) scale(1,1.12)">100</text>
<text transform="translate(159.76,414.40) scale(1,1.12)">200</text>
<text transform="translate(213.89,414.40) scale(1,1.12)">300</text>
<text transform="translate(268.02,414.40) scale(1,1.12)">400</text>
<text transform="translate(322.15,414.40) scale(1,1.12)">500</text>
<text transform="translate(376.28,414.40) scale(1,1.12)">600</text>
<text transform="translate(430.41,414.40) scale(1,1.12)">700</text>
<text transform="translate(241.80,432.90) scale(1,1.12)">k</text>
<text transform="translate(26.80,392.50) rotate(-90) scale(1,1.12)">0.0</text>
<text transform="translate(26.80,366.80) rotate(-90) scale(1,1.12)">0.1</text>
<text transform="translate(26.80,341.10) rotate(-90) scale(1,1.12)">0.2</text>
<text transform="translate(26.80,315.40) rotate(-90) scale(1,1.12)">0.3</text>
<text transform="translate(26.80,289.70) rotate(-90) scale(1,1.12)">0.4</text>
<text transform="translate(26.80,264.00) rotate(-90) scale(1,1.12)">0.5</text>
<text transform="translate(9.10,328.40) rotate(-90) scale(1,1.12)">Bias</text>
<text transform="translate(516.50,414.40) scale(1,1.12)">0</text>
<text transform="translate(570.63,414.40) scale(1,1.12)">100</text>
<text transform="translate(624.76,414.40) scale(1,1.12)">200</text>
<text transform="translate(678.89,414.40) scale(1,1.12)">300</text>
<text transform="translate(733.02,414.40) scale(1,1.12)">400</text>
<text transform="translate(787.15,414.40) scale(1,1.12)">500</text>
<text transform="translate(841.28,414.40) scale(1,1.12)">600</text>
<text transform="translate(895.41,414.40) scale(1,1.12)">700</text>
<text transform="translate(706.80,432.90) scale(1,1.12)">k</text>
<text transform="translate(491.80,392.50) rotate(-90) scale(1,1.12)">0.00</text>
<text transform="translate(491.80,360.38) rotate(-90) scale(1,1.12)">0.05</text>
<text transform="translate(491.80,328.25) rotate(-90) scale(1,1.12)">0.10</text>
<text transform="translate(491.80,296.12) rotate(-90) scale(1,1.12)">0.15</text>
<text transform="translate(491.80,264.00) rotate(-90) scale(1,1.12)">0.20</text>
<text transform="translate(474.10,328.40) rotate(-90) scale(1,1.12)">MSE</text>
</g>
</svg>
</body></html>
